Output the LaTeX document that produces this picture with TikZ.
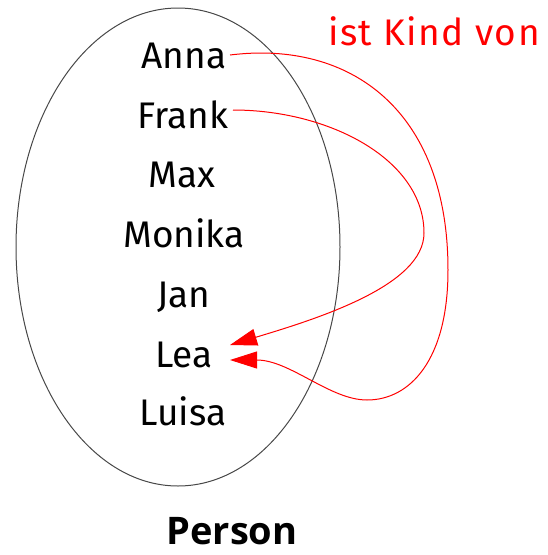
\documentclass[tikz,border=0pt]{standalone}
\usepackage{fontspec}
\setmainfont{Fira Sans}
\newfontfamily\captionfont{Open Sans}
\newfontfamily\relfont{Fira Sans}[LetterSpace=4]
\usetikzlibrary{arrows.meta}

\tikzset{
  member/.style={anchor=base, inner sep=0pt, font=\fontsize{37}{40}\selectfont},
  setname/.style={anchor=base, inner sep=0pt, font=\captionfont\bfseries\fontsize{38}{42}\selectfont},
  relname/.style={anchor=base, inner sep=0pt, text=red, font=\relfont\fontsize{37}{40}\selectfont},
  setline/.style={draw=black!72, line width=1pt},
  relation/.style={draw=red, line width=1pt, -{Triangle[length=27pt,width=17pt]}}
}

\begin{document}
\begin{tikzpicture}[x=1pt, y=-1pt]
  \useasboundingbox (0,0) rectangle (547,555);

  % the set as an ellipse
  \draw[setline] (178,247) ellipse [x radius=162, y radius=239];

  % members of the set
  \node[member] (anna)   at (184,68)  {Anna};
  \node[member] (frank)  at (183,128) {Frank};
  \node[member] (max)    at (182,187) {Max};
  \node[member] (monika) at (184,247) {Monika};
  \node[member] (jan)    at (184,307) {Jan};
  \node[member] (lea)    at (184,367) {Lea};
  \node[member] (luisa)  at (183,425) {Luisa};

  % set and relation names
  \node[setname] (person) at (232,544) {Person};
  \node[relname] (rel)    at (434,45)  {ist Kind von};

  % the relation "ist Kind von"
  \draw[relation] ([shift={(46,-13)}]anna.base)
    .. controls (350,40) and (448,110) .. (448,270)
    .. controls (448,360) and (410,400) .. (367,400)
    .. controls (330,400) and (290,360) .. ([shift={(46,-7)}]lea.base);
  \draw[relation] ([shift={(50,-18)}]frank.base)
    .. controls (330,110) and (424,160) .. (424,233)
    .. controls (424,285) and (320,318) .. ([shift={(46,-22)}]lea.base);
\end{tikzpicture}
\end{document}
